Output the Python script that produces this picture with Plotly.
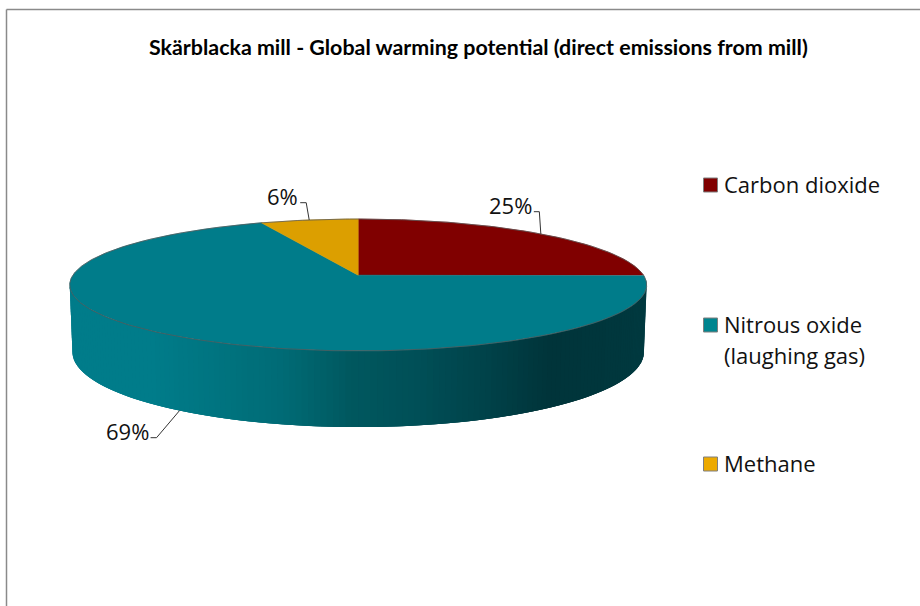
import math
import plotly.graph_objects as go

# ---- data ----
categories = ["Carbon dioxide", "Nitrous oxide", "Methane"]
legend_labels = [["Carbon dioxide"], ["Nitrous oxide", "(laughing gas)"], ["Methane"]]
values = [25.0, 68.7, 6.3]
top_colors = ["#800000", "#007C8A", "#DC9F00"]
legend_colors = ["#800000", "#00858F", "#EDAA00"]
title_text = "Skärblacka mill - Global warming potential (direct emissions from mill)"

# ---- pixel-based scene geometry ----
W, H = 920, 606
CX = 358.2
P = 0.148                      # perspective strength
TOP = dict(cy=275.2, K=285.3, k=64.5)
BOT = dict(cy=340.9, K=282.6, k=73.4)
SIDE_STOPS = [(70, "#007C8A"), (150, "#007C8A"), (217, "#007480"), (283, "#006B75"),
              (350, "#00585F"), (417, "#004F57"), (483, "#00434A"), (550, "#00343A"),
              (617, "#00373D"), (650, "#003A40")]
LEG_X = 710.5
LEG_Y = [185, 325, 464]
LEG_LINE = 31
# leader line of each percentage label, same order as values: (knee dx, knee y, end dx)
LEADERS = [(-1.5, 211.7, -7), (-23, 437.7, -29), (-3, 202.7, -9)]


def rim(theta_deg, g):
    t = math.radians(theta_deg)
    u, v = math.sin(t), math.cos(t)
    w = 1 + P * v
    return CX + g["K"] * u / w, g["cy"] - g["k"] * v / w


def hex_rgb(h):
    return tuple(int(h[i:i + 2], 16) for i in (1, 3, 5))


def side_color(x):
    for (x0, c0), (x1, c1) in zip(SIDE_STOPS, SIDE_STOPS[1:]):
        if x <= x1:
            f = max(0, (x - x0) / (x1 - x0))
            a, b = hex_rgb(c0), hex_rgb(c1)
            return "rgb(%d,%d,%d)" % tuple(round(a[i] + (b[i] - a[i]) * f) for i in range(3))
    return SIDE_STOPS[-1][1]


fig = go.Figure()

# side wall, drawn as overlapping strips between the top and the bottom rim
a0 = math.degrees(math.acos(-P))
a1 = 360 - a0
n = 150
for i in range(n):
    t0 = a0 + (a1 - a0) * i / n
    tm = a0 + (a1 - a0) * (i + 1) / n
    t1 = a0 + (a1 - a0) * min(n, i + 3) / n
    ang = [t0 + (t1 - t0) * j / 3 for j in range(4)]
    pts = [rim(a, TOP) for a in ang] + [rim(a, BOT) for a in reversed(ang)]
    c = side_color((rim(t0, TOP)[0] + rim(tm, TOP)[0]) / 2)
    fig.add_trace(go.Scatter(x=[p[0] for p in pts] + [pts[0][0]],
                             y=[p[1] for p in pts] + [pts[0][1]],
                             mode="lines", fill="toself", fillcolor=c,
                             line=dict(width=0), hoverinfo="skip", showlegend=False))

# top face slices, starting at north and going clockwise
total = sum(values)
start = 0.0
mids = []
for name, val, col in zip(categories, values, top_colors):
    sweep = 360 * val / total
    steps = max(4, int(sweep * 2))
    pts = [rim(start + sweep * j / steps, TOP) for j in range(steps + 1)]
    xs = [CX] + [p[0] for p in pts] + [CX]
    ys = [TOP["cy"]] + [p[1] for p in pts] + [TOP["cy"]]
    fig.add_trace(go.Scatter(x=xs, y=ys, mode="lines", fill="toself", fillcolor=col,
                             line=dict(color=col, width=0.6), name=name,
                             hoverinfo="skip", showlegend=False))
    mids.append(start + sweep / 2)
    start += sweep

# rim outline of the top face
outline = [rim(a, TOP) for a in range(0, 361, 1)]
fig.add_trace(go.Scatter(x=[p[0] for p in outline], y=[p[1] for p in outline], mode="lines",
                         line=dict(color="rgba(85,85,85,0.75)", width=1),
                         hoverinfo="skip", showlegend=False))

# leader lines and percentage labels
annotations = []
for val, mid, (dx, ky, ex) in zip(values, mids, LEADERS):
    front = 90 < mid < 270
    x0, y0 = rim(mid, BOT if front else TOP)
    fig.add_trace(go.Scatter(x=[x0, x0 + dx, x0 + ex], y=[y0, ky, ky], mode="lines",
                             line=dict(color="#333333", width=1),
                             hoverinfo="skip", showlegend=False))
    annotations.append(dict(x=x0 + ex, y=ky - 6.5, xref="x", yref="y",
                            text="%d%%" % round(val), showarrow=False, xanchor="right", yanchor="middle",
                            font=dict(family="Open Sans", size=22, color="#111111")))

# legend
fig.add_trace(go.Scatter(x=[LEG_X] * 3, y=LEG_Y, mode="markers",
                         marker=dict(symbol="square", size=14, color=legend_colors,
                                     line=dict(color="#7F7F7F", width=1)),
                         hoverinfo="skip", showlegend=False))
for lines, y in zip(legend_labels, LEG_Y):
    for j, lab in enumerate(lines):
        annotations.append(dict(x=LEG_X + 11, y=y - 1 + j * LEG_LINE, xref="x", yref="y", text=lab,
                                showarrow=False, xanchor="left", yanchor="middle", align="left",
                                font=dict(family="Open Sans", size=22, color="#111111")))

annotations.append(dict(x=478, y=47, xref="x", yref="y", text="<b>%s</b>" % title_text, showarrow=False,
                        xanchor="center", yanchor="middle",
                        font=dict(family="Lato", size=21.4, color="#000000")))

fig.update_layout(
    width=W, height=H, margin=dict(l=0, r=0, t=0, b=0),
    paper_bgcolor="white", plot_bgcolor="white", showlegend=False,
    xaxis=dict(range=[0, W], visible=False, fixedrange=True),
    yaxis=dict(range=[H, 0], visible=False, fixedrange=True),
    annotations=annotations,
    shapes=[
        dict(type="line", xref="x", yref="y", x0=6.5, y0=9.5, x1=W, y1=9.5,
             line=dict(color="#8A8A8A", width=1.5)),
        dict(type="line", xref="x", yref="y", x0=6.5, y0=9.5, x1=6.5, y1=H,
             line=dict(color="#8A8A8A", width=1.5)),
    ],
)

fig.write_html("out.html", config={"displayModeBar": False},
               post_script="document.body.style.margin='0';document.documentElement.style.overflow='hidden';")
